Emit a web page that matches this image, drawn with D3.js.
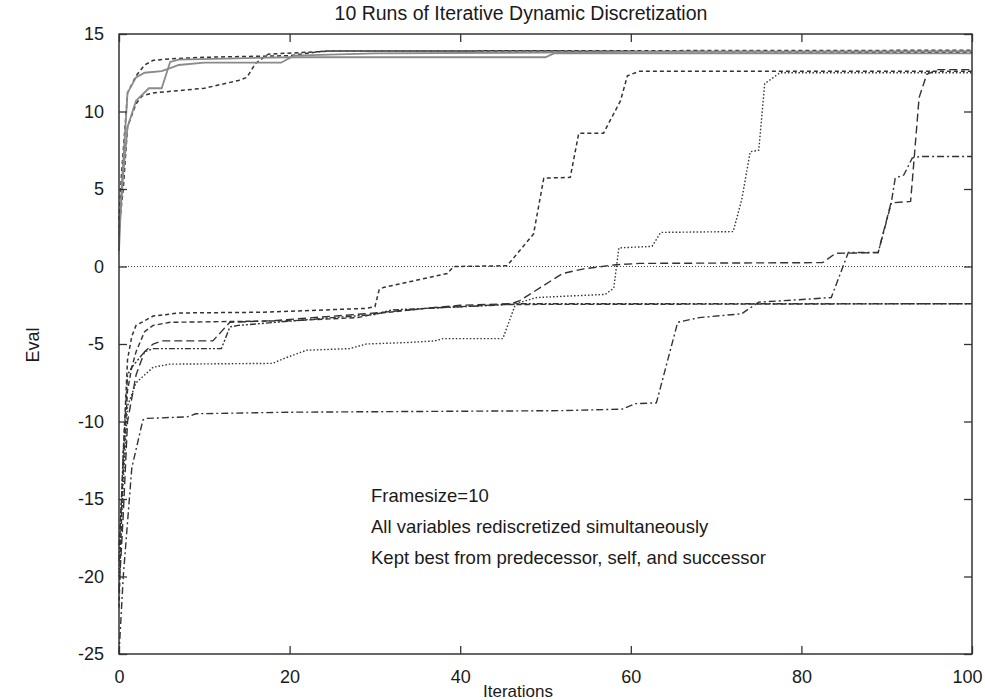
<!DOCTYPE html>
<html><head><meta charset="utf-8">
<script src="https://cdn.jsdelivr.net/npm/d3@7"></script>
<style>
body{margin:0;background:#fff;}
svg text{font-family:"Liberation Sans",Arial,Helvetica,sans-serif;fill:#1a1a1a;}
</style></head>
<body><svg id="chart" width="985" height="700"></svg>
<script>
// ---- data ----
const titleText = "10 Runs of Iterative Dynamic Discretization";
const xLabel = "Iterations";
const yLabel = "Eval";
const xTicks = [0, 20, 40, 60, 80, 100];
const yTicks = [15, 10, 5, 0, -5, -10, -15, -20, -25];
const notes = ["Framesize=10", "All variables rediscretized simultaneously", "Kept best from predecessor, self, and successor"];

// top group
const runG1 = [[0,1],[0.3,5],[1,11.2],[2,12.2],[3,12.5],[5,12.6],[6,12.8],[7,13.0],[10,13.15],[19,13.15],[20.5,13.6],[30,13.75],[50,13.8],[60,13.85],[100,13.9]];
const runG2 = [[0,2],[0.5,6],[1,9],[2,10.7],[3.5,11.5],[5,11.5],[6,13.2],[7,13.35],[15,13.45],[20,13.5],[50,13.5],[51,13.75],[100,13.75]];
const runH = [[0,3],[0.3,6],[1,11.2],[2,12.3],[3,13.0],[4,13.3],[6,13.4],[10,13.5],[20,13.6],[24,13.9],[50,13.9],[100,13.8]];
const runI = [[0,2.5],[0.5,5],[1,9],[2,10.5],[2.7,11.0],[4,11.2],[10,11.5],[14,12.0],[15,12.2],[16,13.1],[17.5,13.7],[25,13.9],[100,13.95]];
// bottom group
const runA = [[0,-22],[0.5,-12],[1,-6],[1.5,-4.5],[2,-3.8],[3,-3.5],[4,-3.2],[7,-3.0],[17,-2.95],[29,-2.7],[30,-2.6],[30.5,-1.5],[31,-1.35],[38.5,-0.45],[39.2,0],[45.5,0.05],[48.6,2.1],[49.8,5.7],[52.9,5.75],[53.9,8.6],[56.8,8.6],[58.8,10.7],[59.6,12.3],[61,12.6],[100,12.6]];
const runB = [[0,-20],[0.5,-14],[1,-9],[2,-7.5],[4,-6.5],[6,-6.3],[18,-6.25],[19.5,-5.9],[22,-5.4],[27,-5.3],[29,-5.0],[34,-4.9],[37,-4.8],[38,-4.65],[45,-4.65],[46.5,-2.4],[49,-2.0],[57,-1.8],[58,-1.4],[58.6,1.2],[62.5,1.3],[63.5,2.2],[72,2.25],[73,4.3],[74,7.4],[75,7.5],[75.7,11.8],[77.5,12.5],[100,12.5]];
const runC = [[0,-25],[0.5,-20],[1.5,-13],[2.8,-9.9],[3.3,-9.8],[8,-9.7],[9,-9.5],[20,-9.4],[52,-9.3],[59,-9.2],[60.5,-8.85],[63,-8.8],[65.5,-3.6],[68,-3.3],[73,-3.05],[75,-2.3],[81,-2.1],[83.5,-2.0],[85.5,0.9],[89,0.9],[90.5,4.0],[91,5.7],[92,5.9],[93,7.0],[94,7.1],[100,7.1]];
const runD = [[0,-21],[0.5,-16],[1,-10],[2,-7],[3,-5.5],[4,-5.0],[5,-4.8],[11,-4.8],[12,-4.2],[13,-3.6],[18,-3.5],[30,-3.0],[40,-2.5],[46,-2.4],[47,-2.2],[52,-0.45],[54.5,-0.15],[58,0.1],[61,0.2],[82.5,0.25],[84,0.85],[89,0.9],[90.5,4.1],[92.8,4.2],[93,5.5],[93.8,10.9],[94.7,12.4],[96,12.7],[100,12.7]];
const runE = [[0,-19],[0.5,-12],[1,-7],[1.5,-6.5],[3,-5.5],[4,-5.3],[12,-5.3],[13,-3.9],[14,-3.8],[25,-3.3],[30,-3.1],[32,-2.8],[44,-2.5],[47,-2.4],[100,-2.4]];
const runF = [[0,-18],[0.5,-13],[1,-8],[1.5,-6.5],[2,-5.5],[3,-4.2],[4,-3.8],[6,-3.6],[20,-3.5],[28,-3.3],[30,-3.05],[36,-2.7],[45,-2.45],[100,-2.4]];
const zeroLine = [[0,0],[100,0]];

// ---- drawing ----
const svg = d3.select("#chart");
const L = 119, R = 972, T = 34, B = 654;
const x = d3.scaleLinear().domain([0,100]).range([L,R]);
const y = d3.scaleLinear().domain([-25,15]).range([B,T]);
const line = d3.line().x(d=>x(d[0])).y(d=>y(d[1]));

const series = [
  {d: zeroLine, c:"#444", w:1, dash:"1,2"},
  {d: runB, c:"#333", w:1.4, dash:"1.5,2"},
  {d: runC, c:"#333", w:1.4, dash:"7,3,2,3"},
  {d: runD, c:"#333", w:1.4, dash:"8,4"},
  {d: runE, c:"#333", w:1.4, dash:"6,2,2,2,2,2"},
  {d: runF, c:"#333", w:1.4, dash:"5,3"},
  {d: runA, c:"#333", w:1.5, dash:"4,3"},
  {d: runH, c:"#333", w:1.5, dash:"4,3"},
  {d: runI, c:"#333", w:1.5, dash:"4,3"},
  {d: runG1, c:"#8a8a8a", w:1.8, dash:null},
  {d: runG2, c:"#8a8a8a", w:1.8, dash:null}
];
const g = svg.append("g");
series.forEach(s=>{
  g.append("path").attr("d", line(s.d)).attr("fill","none")
   .attr("stroke", s.c).attr("stroke-width", s.w)
   .attr("stroke-dasharray", s.dash);
});

// frame
svg.append("rect").attr("x",L).attr("y",T).attr("width",R-L).attr("height",B-T)
  .attr("fill","none").attr("stroke","#333").attr("stroke-width",1.5);

// axes with inward ticks
const fmt = d => String(d);
const ax = svg.append("g").attr("transform",`translate(0,${B})`)
  .call(d3.axisBottom(x).tickValues(xTicks).tickSize(-8).tickPadding(16).tickFormat(fmt));
const axTop = svg.append("g").attr("transform",`translate(0,${T})`)
  .call(d3.axisTop(x).tickValues(xTicks).tickSize(-8).tickFormat(""));
const ay = svg.append("g").attr("transform",`translate(${L},0)`)
  .call(d3.axisLeft(y).tickValues(yTicks).tickSize(-8).tickPadding(15).tickFormat(fmt));
const ayR = svg.append("g").attr("transform",`translate(${R},0)`)
  .call(d3.axisRight(y).tickValues(yTicks).tickSize(-8).tickFormat(""));
[ax,axTop,ay,ayR].forEach(a=>{
  a.select(".domain").remove();
  a.selectAll(".tick line").attr("stroke","#333").attr("stroke-width",1.3);
  a.selectAll("text").style("font-size","18px").attr("fill","#1a1a1a");
});
// keep the last x label inside the picture
ax.selectAll(".tick text").filter(d=>d===100).attr("text-anchor","end").attr("dx","10");

// labels
svg.append("text").attr("x",521).attr("y",20).attr("text-anchor","middle")
  .style("font-size","19.5px").text(titleText);
svg.append("text").attr("x",518).attr("y",697).attr("text-anchor","middle")
  .style("font-size","17px").text(xLabel);
svg.append("text").attr("transform","translate(39,345) rotate(-90)").attr("text-anchor","middle")
  .style("font-size","18px").text(yLabel);
notes.forEach((t,i)=>{
  svg.append("text").attr("x",371).attr("y",502+i*31).style("font-size","18.5px").text(t);
});
</script></body></html>
